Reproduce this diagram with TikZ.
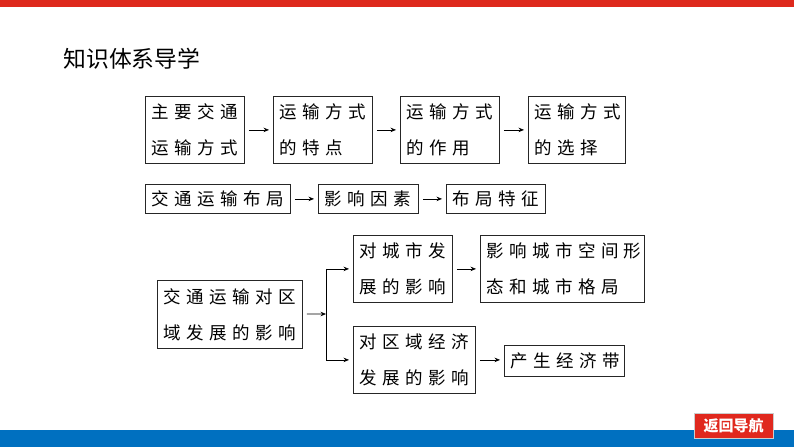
\documentclass[tikz,border=0pt]{standalone}
\usepackage{fontspec}
\newfontfamily\cjk{Noto Sans CJK SC}[LetterSpace=31]
\newfontfamily\cjkhead{Noto Sans CJK SC}
\usetikzlibrary{arrows.meta}
\definecolor{barred}{RGB}{222,41,28}
\definecolor{barblue}{RGB}{0,112,192}
\definecolor{btnred}{RGB}{224,40,30}

\begin{document}
\begin{tikzpicture}[x=1pt,y=-1pt,thick]

    % `box' is used for every frame of the chart.
    % `link' is used for the arrows between frames.
    \tikzstyle{box} = [draw=black!85,line width=0.8pt,anchor=north west,align=left,inner xsep=6pt,inner ysep=2pt,font=\cjk\fontsize{17.5}{36}\selectfont]
    \tikzstyle{link} = [-{Stealth[length=5.5pt,width=4.5pt]},line width=0.7pt,shorten <=4pt,shorten >=4pt]
    %
    \useasboundingbox (0,0) rectangle (794,447);
    \fill[barred] (0,0) rectangle (794,7);
    \fill[barblue] (0,430) rectangle (794,447);

    \node[anchor=west,inner sep=0pt,font=\cjkhead\fontsize{22.8}{22.8}\selectfont] (title) at (63,59) {知识体系导学};

    % First row.
    \node[box,text width=87pt,minimum height=67pt] (mode) at (145,96) {主要交通\\运输方式};
    \node[box,text width=87pt,minimum height=67pt] (trait) at (273,96) {运输方式\\的特点};
    \node[box,text width=87pt,minimum height=67pt] (role) at (400,96) {运输方式\\的作用};
    \node[box,text width=85pt,minimum height=67pt] (choice) at (528,96) {运输方式\\的选择};

    % Second row.
    \node[box,text width=133pt,minimum height=29pt] (layout) at (145,184) {交通运输布局};
    \node[box,text width=88pt,minimum height=29pt] (factor) at (318,184) {影响因素};
    \node[box,text width=87pt,minimum height=29pt] (feature) at (446,184) {布局特征};

    % Third row.
    \node[box,text width=133pt,minimum height=68pt] (impact) at (157,280) {交通运输对区\\域发展的影响};
    \node[box,text width=87pt,minimum height=67pt] (city) at (353,235) {对城市发\\展的影响};
    \node[box,text width=152pt,minimum height=67pt] (form) at (480,235) {影响城市空间形\\态和城市格局};
    \node[box,text width=110pt,minimum height=67pt] (econ) at (353,326) {对区域经济\\发展的影响};
    \node[box,text width=108pt,minimum height=31pt] (belt) at (504,345) {产生经济带};

    \coordinate (fork) at (326,314);
    \coordinate (forkT) at (fork |- city.west);
    \coordinate (forkB) at (fork |- econ.west);

    % Draw arrows.
    \draw[link] (mode) -- (trait);
    \draw[link] (trait) -- (role);
    \draw[link] (role) -- (choice);
    \draw[link] (layout) -- (factor);
    \draw[link] (factor) -- (feature);
    \draw[link,shorten >=0pt] (impact) -- (fork);
    \draw[line width=0.7pt] (forkT) -- (forkB);
    \draw[link,shorten <=0pt] (forkT) -- (city);
    \draw[link,shorten <=0pt] (forkB) -- (econ);
    \draw[link] (city) -- (form);
    \draw[link] (econ.east) -- (belt.west |- econ.east);

    \node[fill=btnred,draw=black!20,line width=0.6pt,text=white,inner sep=0pt,minimum width=79pt,minimum height=25pt,font=\cjkhead\bfseries\fontsize{15}{15}\selectfont] (back) at (733.5,425.5) {返回导航};
    %
\end{tikzpicture}
\end{document}
